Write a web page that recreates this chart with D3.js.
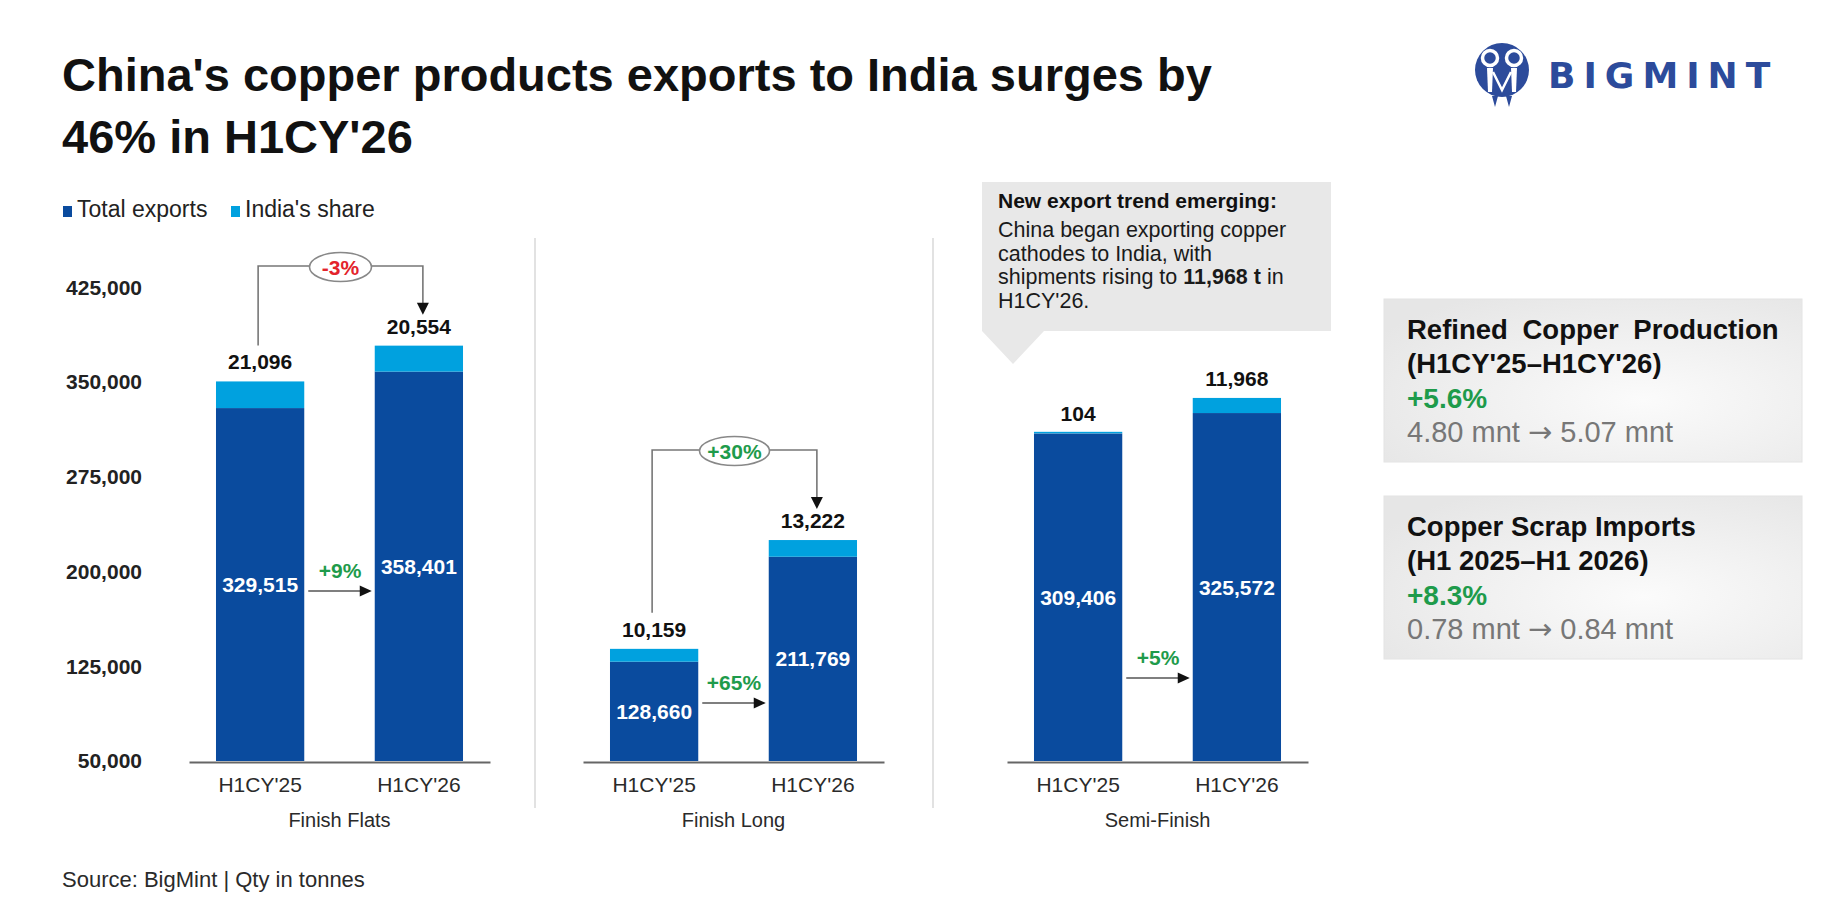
<!DOCTYPE html>
<html>
<head>
<meta charset="utf-8">
<script src="https://cdn.jsdelivr.net/npm/d3@7"></script>
<style>
  body { margin: 0; background: #fff; }
  svg { display: block; }
  text { font-family: 'Liberation Sans', Arial, sans-serif; }
</style>
</head>
<body>
<script>
// data
const categories = ["Finish Flats", "Finish Long", "Semi-Finish"];
const periods = ["H1CY'25", "H1CY'26"];
const totalExports = [[329515, 358401], [128660, 211769], [309406, 325572]];
const indiaShare = [[21096, 20554], [10159, 13222], [104, 11968]];
const totalChange = ["+9%", "+65%", "+5%"];
const indiaChange = ["-3%", "+30%", null];
const yTicks = [50000, 125000, 200000, 275000, 350000, 425000];

const legendItems = ["Total exports", "India's share"];
const cards = [
  { l1: "Refined Copper Production", l2: "(H1CY'25\u2013H1CY'26)", pct: "+5.6%", from: "4.80 mnt", to: "5.07 mnt" },
  { l1: "Copper Scrap Imports", l2: "(H1 2025\u2013H1 2026)", pct: "+8.3%", from: "0.78 mnt", to: "0.84 mnt" }
];

// layout
const W = 1842, H = 921;
const panelRange = [[189, 490], [583, 884], [1007, 1308]];
const arrowY = [591, 703, 678];
const bracketY = [266, 450, null];
const sepX = [535, 933];

const dark = "#0a4b9e", light = "#00a1df";
const green = "#1e9b4b", red = "#e3232b", blue = "#2c4b9b";

const svg = d3.select("body").append("svg")
    .attr("width", W)
    .attr("height", H);

const defs = svg.append("defs");
const grad = defs.append("radialGradient").attr("id", "cardGrad")
    .attr("cx", "62%").attr("cy", "62%").attr("r", "75%");
grad.append("stop").attr("offset", "0%").attr("stop-color", "#fbfbfb");
grad.append("stop").attr("offset", "100%").attr("stop-color", "#e6e6e6");

// title
svg.append("text").attr("x", 62).attr("y", 91)
    .style("font-size", "47px").style("font-weight", "700").attr("fill", "#111")
    .text("China's copper products exports to India surges by");
svg.append("text").attr("x", 62).attr("y", 153)
    .style("font-size", "47px").style("font-weight", "700").attr("fill", "#111")
    .text("46% in H1CY'26");

// logo
const logo = svg.append("g").attr("transform", "translate(1502,70)");
logo.append("circle").attr("r", 27).attr("fill", blue);
[-12, 12].forEach(dx => {
  logo.append("path")
      .attr("d", `M${dx - 3},-2 L${dx + 3},-2 L${dx + 2},22 L${dx - 2},22 Z`)
      .attr("fill", "#fff");
  logo.append("circle").attr("cx", dx).attr("cy", -12).attr("r", 7.5)
      .attr("fill", blue).attr("stroke", "#fff").attr("stroke-width", 3.5);
});
logo.append("path").attr("d", "M-10,26 L-7,37 L-4,26 Z M4,26 L7,37 L10,26 Z").attr("fill", blue);
logo.append("path").attr("d", "M-9,2 L0,20 L9,2").attr("fill", "none").attr("stroke", "#fff").attr("stroke-width", 2.5);
svg.append("text").attr("x", 1548).attr("y", 88)
    .style("font-family", "'DejaVu Sans', sans-serif")
    .style("font-size", "36px").style("font-weight", "700")
    .style("letter-spacing", "8px").attr("fill", blue)
    .text("BIGMINT");

// legend
const legend = svg.append("g").attr("transform", "translate(63,217)");
legendItems.forEach((name, i) => {
  const lx = i === 0 ? 0 : 168;
  legend.append("rect").attr("x", lx).attr("y", -11).attr("width", 9).attr("height", 11)
      .attr("fill", i === 0 ? dark : light);
  legend.append("text").attr("x", lx + 14).attr("y", 0)
      .style("font-size", "23px").attr("fill", "#222").text(name);
});

// y scale shared by all panels
const y = d3.scaleLinear().domain([50000, 425000]).range([761, 287.5]);

const yAxis = svg.append("g").attr("transform", "translate(150,0)")
    .call(d3.axisLeft(y).tickValues(yTicks).tickSize(0).tickPadding(8).tickFormat(d3.format(",")));
yAxis.select(".domain").remove();
yAxis.selectAll("text")
    .style("font-size", "21px").style("font-weight", "700")
    .style("font-family", "'Liberation Sans', Arial, sans-serif")
    .attr("fill", "#222");

// separators
sepX.forEach(sx => {
  svg.append("line").attr("x1", sx).attr("x2", sx).attr("y1", 238).attr("y2", 808)
      .attr("stroke", "#e2e2e2").attr("stroke-width", 2);
});

function arrowRight(g, x1, x2, yy) {
  g.append("line").attr("x1", x1).attr("x2", x2 - 10).attr("y1", yy).attr("y2", yy)
      .attr("stroke", "#555").attr("stroke-width", 1.6);
  g.append("path").attr("d", `M${x2 - 12},${yy - 5.5} L${x2},${yy} L${x2 - 12},${yy + 5.5} Z`).attr("fill", "#111");
}

categories.forEach((cat, i) => {
  const g = svg.append("g");
  const x = d3.scaleBand().domain(periods).range(panelRange[i])
      .paddingInner(0.444).paddingOuter(0.17);

  const rows = periods.map((p, j) => ({
    period: p,
    total: totalExports[i][j],
    share: indiaShare[i][j]
  }));

  // total exports
  g.selectAll("rect.total").data(rows).join("rect")
      .attr("class", "total")
      .attr("x", d => x(d.period))
      .attr("width", x.bandwidth())
      .attr("y", d => y(d.total))
      .attr("height", d => y(50000) - y(d.total))
      .attr("fill", dark);

  // India's share on top
  g.selectAll("rect.share").data(rows).join("rect")
      .attr("class", "share")
      .attr("x", d => x(d.period))
      .attr("width", x.bandwidth())
      .attr("y", d => y(d.total + d.share) - (d.share < 1000 ? 1.5 : 0))
      .attr("height", d => Math.max(y(d.total) - y(d.total + d.share), 1.5))
      .attr("fill", light);

  // labels
  g.selectAll("text.share").data(rows).join("text")
      .attr("x", d => x(d.period) + x.bandwidth() / 2)
      .attr("y", d => y(d.total + d.share) - 12)
      .attr("text-anchor", "middle")
      .style("font-size", "21px").style("font-weight", "700").attr("fill", "#111")
      .text(d => d3.format(",")(d.share));

  g.selectAll("text.total").data(rows).join("text")
      .attr("x", d => x(d.period) + x.bandwidth() / 2)
      .attr("y", d => (y(d.total) + y(50000)) / 2 + 7.5)
      .attr("text-anchor", "middle")
      .style("font-size", "21px").style("font-weight", "700").attr("fill", "#fff")
      .text(d => d3.format(",")(d.total));

  // x axis
  const xAxis = g.append("g").attr("transform", "translate(0,762)")
      .call(d3.axisBottom(x).tickSize(0).tickSizeOuter(0));
  xAxis.select(".domain").attr("stroke", "#666").attr("stroke-width", 2.2);
  xAxis.selectAll("text")
      .attr("y", 30).attr("dy", 0)
      .style("font-size", "21px")
      .style("font-family", "'Liberation Sans', Arial, sans-serif")
      .attr("fill", "#2a2a2a");

  g.append("text")
      .attr("x", (panelRange[i][0] + panelRange[i][1]) / 2)
      .attr("y", 827)
      .attr("text-anchor", "middle")
      .style("font-size", "20px").attr("fill", "#2a2a2a")
      .text(cat);

  // change in total exports
  const ax1 = x(periods[0]) + x.bandwidth() + 4;
  const ax2 = x(periods[1]) - 3;
  arrowRight(g, ax1, ax2, arrowY[i]);
  g.append("text")
      .attr("x", (ax1 + ax2) / 2).attr("y", arrowY[i] - 13)
      .attr("text-anchor", "middle")
      .style("font-size", "21px").style("font-weight", "700").attr("fill", green)
      .text(totalChange[i]);

  // change in India's share
  if (indiaChange[i]) {
    const bx1 = x(periods[0]) + x.bandwidth() / 2 - 2;
    const bx2 = x(periods[1]) + x.bandwidth() / 2 + 4;
    const by = bracketY[i];
    const leftBottom = y(rows[0].total + rows[0].share) - 36;
    const tip = y(rows[1].total + rows[1].share) - 31;
    g.append("path")
        .attr("d", `M${bx1},${leftBottom} V${by} H${bx2} V${tip - 10}`)
        .attr("fill", "none").attr("stroke", "#777").attr("stroke-width", 1.6);
    g.append("path")
        .attr("d", `M${bx2 - 6},${tip - 12} L${bx2 + 6},${tip - 12} L${bx2},${tip} Z`)
        .attr("fill", "#111");
    const ex = (bx1 + bx2) / 2;
    const neg = indiaChange[i].startsWith("-");
    g.append("ellipse").attr("cx", ex).attr("cy", by + 1)
        .attr("rx", neg ? 31 : 35).attr("ry", 14.5)
        .attr("fill", "#fff").attr("stroke", "#888").attr("stroke-width", 1.6);
    g.append("text").attr("x", ex).attr("y", by + 9)
        .attr("text-anchor", "middle")
        .style("font-size", "21px").style("font-weight", "700")
        .attr("fill", neg ? red : green)
        .text(indiaChange[i]);
  }
});

// callout
const call = svg.append("g");
call.append("path")
    .attr("d", "M982,182 H1331 V331 H1044 L1013,364 L982,331 Z")
    .attr("fill", "#e8e8e8");
call.append("text").attr("x", 998).attr("y", 208)
    .style("font-size", "21px").style("font-weight", "700").attr("fill", "#111")
    .text("New export trend emerging:");
const callLines = [
  [["China began exporting copper", false]],
  [["cathodes to India, with", false]],
  [["shipments rising to ", false], ["11,968 t", true], [" in", false]],
  [["H1CY'26.", false]]
];
callLines.forEach((parts, k) => {
  const t = call.append("text").attr("x", 998).attr("y", 237 + k * 23.7)
      .style("font-size", "21.5px").attr("fill", "#1a1a1a");
  parts.forEach(([s, b]) => t.append("tspan").style("font-weight", b ? "700" : "400").text(s));
});

// side cards
cards.forEach((c, k) => {
  const top = 299 + k * 197;
  const g = svg.append("g").attr("transform", `translate(1384,${top})`);
  g.append("rect").attr("width", 418).attr("height", 163)
      .attr("fill", "url(#cardGrad)").attr("stroke", "#e4e4e4").attr("stroke-width", 1);
  g.append("text").attr("x", 23).attr("y", 40)
      .style("font-size", "27.5px").style("font-weight", "700").attr("fill", "#111")
      .style("word-spacing", k === 0 ? "7px" : "0px")
      .text(c.l1);
  g.append("text").attr("x", 23).attr("y", 74)
      .style("font-size", "27.5px").style("font-weight", "700").attr("fill", "#111")
      .text(c.l2);
  g.append("text").attr("x", 23).attr("y", 109)
      .style("font-size", "28px").style("font-weight", "700").attr("fill", green)
      .text(c.pct);
  const v = g.append("text").attr("x", 23).attr("y", 143)
      .style("font-size", "29px").attr("fill", "#777");
  v.append("tspan").text(c.from + " ");
  v.append("tspan").style("font-family", "'DejaVu Sans', sans-serif").style("font-size", "29px").text("\u2192");
  v.append("tspan").text(" " + c.to);
});

// source
svg.append("text").attr("x", 62).attr("y", 887)
    .style("font-size", "22px").attr("fill", "#2a2a2a")
    .text("Source: BigMint | Qty in tonnes");
</script>
</body>
</html>
